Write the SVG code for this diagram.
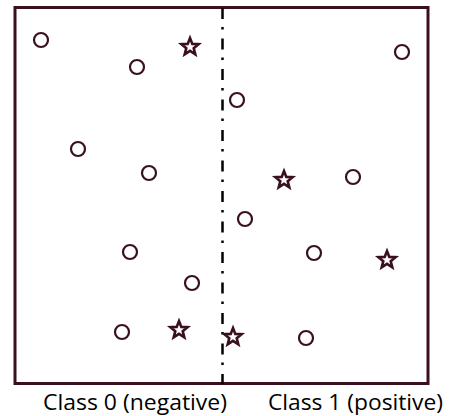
<svg xmlns="http://www.w3.org/2000/svg" width="449" height="416" viewBox="0 0 449 416">
  <style>
    .frame { fill: none; stroke: #3a1020; stroke-width: 3; }
    .split { fill: none; stroke: #000; stroke-width: 2.5; stroke-dasharray: 11 8 2.5 9; }
    .pt { fill: #fff; stroke: #3a1020; stroke-width: 2.2; }
    .st { fill: #fff; stroke: #3a1020; stroke-width: 2.6; stroke-linejoin: miter; }
    .lbl { font-family: "Open Sans", "Liberation Sans", sans-serif; font-size: 21.5px; fill: #000; }
  </style>
  <defs>
    <!-- hollow five-pointed star, outer radius 9 -->
    <polygon id="star" points="0,-9 2.3,-3.1 8.6,-2.8 3.7,1.2 5.3,7.3 0,3.9 -5.3,7.3 -3.7,1.2 -8.6,-2.8 -2.3,-3.1"/>
  </defs>

  <rect id="plot" class="frame" x="15" y="7.5" width="413" height="376"/>

  <g id="connectors">
    <line class="split" x1="222.5" y1="8" x2="222.5" y2="384"/>
  </g>

  <g id="circles">
    <circle class="pt" cx="41" cy="40" r="7"/>
    <circle class="pt" cx="137" cy="67" r="7"/>
    <circle class="pt" cx="78" cy="149" r="7"/>
    <circle class="pt" cx="149" cy="173" r="7"/>
    <circle class="pt" cx="130" cy="252" r="7"/>
    <circle class="pt" cx="192" cy="283" r="7"/>
    <circle class="pt" cx="122" cy="332" r="7"/>
    <circle class="pt" cx="402" cy="52" r="7"/>
    <circle class="pt" cx="237" cy="100" r="7"/>
    <circle class="pt" cx="353" cy="177" r="7"/>
    <circle class="pt" cx="245" cy="219" r="7"/>
    <circle class="pt" cx="314" cy="253" r="7"/>
    <circle class="pt" cx="306" cy="338" r="7"/>
  </g>

  <g id="stars">
    <use href="#star" class="st" x="190" y="47"/>
    <use href="#star" class="st" x="284" y="180"/>
    <use href="#star" class="st" x="179" y="330"/>
    <use href="#star" class="st" x="387" y="260"/>
    <use href="#star" class="st" x="233" y="337"/>
  </g>

  <g id="labels">
    <text class="lbl" x="43" y="410" textLength="184" lengthAdjust="spacingAndGlyphs">Class 0 (negative)</text>
    <text class="lbl" x="268" y="410" textLength="175" lengthAdjust="spacingAndGlyphs">Class 1 (positive)</text>
  </g>
</svg>
